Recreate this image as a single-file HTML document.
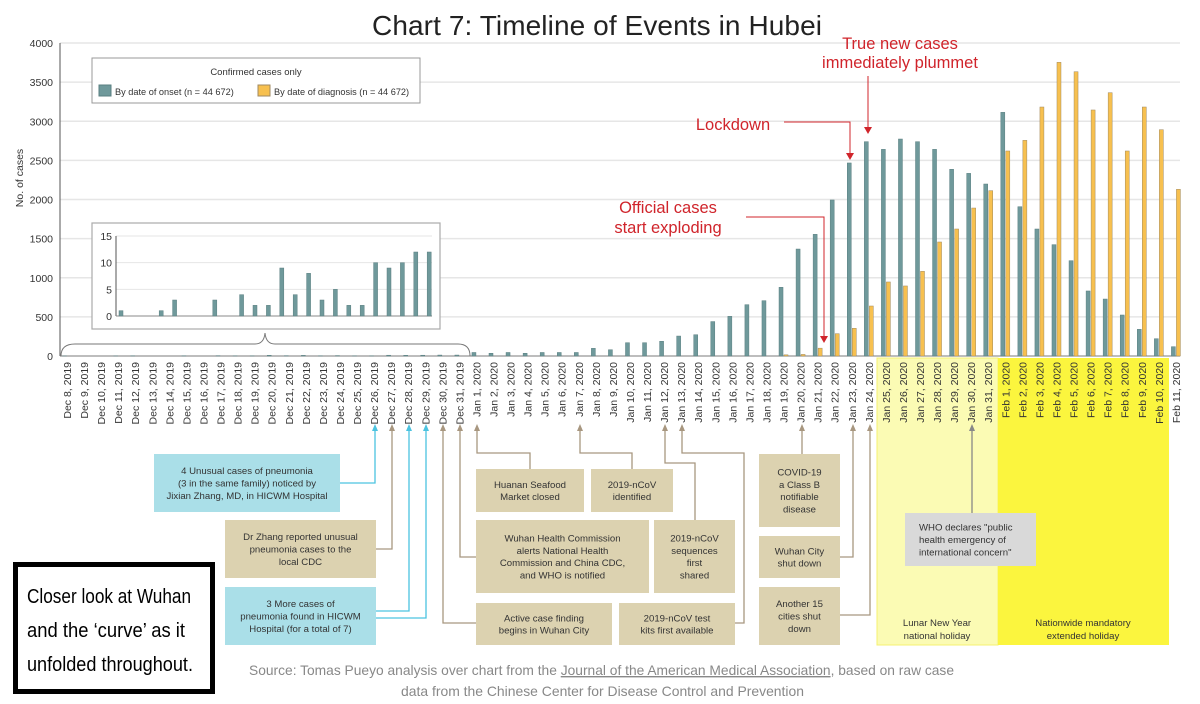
<!DOCTYPE html>
<html><head><meta charset="utf-8"><style>
html,body{margin:0;padding:0;background:#fff;}
svg{display:block;font-family:"Liberation Sans",sans-serif;}
.bx{font-family:"Liberation Sans",sans-serif;font-size:9.6px;fill:#333;}
</style></head><body>
<svg id="c" width="1200" height="704" viewBox="0 0 1200 704" xmlns="http://www.w3.org/2000/svg">
<text x="597" y="35" text-anchor="middle" font-size="28" fill="#222" textLength="450">Chart 7: Timeline of Events in Hubei</text>
<g id="grid"></g>
<g id="bg"></g>
<g id="bars"></g>
<g id="xl"></g>
<g id="ann"></g>
</svg>
<script>
const categories=["Dec 8, 2019","Dec 9, 2019","Dec 10, 2019","Dec 11, 2019","Dec 12, 2019","Dec 13, 2019","Dec 14, 2019","Dec 15, 2019","Dec 16, 2019","Dec 17, 2019","Dec 18, 2019","Dec 19, 2019","Dec 20, 2019","Dec 21, 2019","Dec 22, 2019","Dec 23, 2019","Dec 24, 2019","Dec 25, 2019","Dec 26, 2019","Dec 27, 2019","Dec 28, 2019","Dec 29, 2019","Dec 30, 2019","Dec 31, 2019",
"Jan 1, 2020","Jan 2, 2020","Jan 3, 2020","Jan 4, 2020","Jan 5, 2020","Jan 6, 2020","Jan 7, 2020","Jan 8, 2020","Jan 9, 2020","Jan 10, 2020","Jan 11, 2020","Jan 12, 2020","Jan 13, 2020","Jan 14, 2020","Jan 15, 2020","Jan 16, 2020","Jan 17, 2020","Jan 18, 2020","Jan 19, 2020","Jan 20, 2020","Jan 21, 2020","Jan 22, 2020","Jan 23, 2020","Jan 24, 2020","Jan 25, 2020","Jan 26, 2020","Jan 27, 2020","Jan 28, 2020","Jan 29, 2020","Jan 30, 2020","Jan 31, 2020",
"Feb 1, 2020","Feb 2, 2020","Feb 3, 2020","Feb 4, 2020","Feb 5, 2020","Feb 6, 2020","Feb 7, 2020","Feb 8, 2020","Feb 9, 2020","Feb 10, 2020","Feb 11, 2020"];
const onsetDec=[1,0,0,1,3,0,0,3,0,4,2,2,9,4,8,3,5,2,2,10,9,10,12,12];
const onsetJan=[45,35,45,35,45,45,45,98,80,170,170,188,255,272,440,507,656,707,878,1367,1555,1994,2467,2739,2641,2773,2739,2641,2386,2334,2198];
const onsetFeb=[3114,1908,1623,1423,1218,831,728,524,341,221,119];
const diagDec=[0,0,0,0,0,0,0,0,0,0,0,0,0,0,0,0,0,0,0,0,0,0,0,0];
const diagJan=[0,0,0,0,0,0,0,0,0,0,0,0,0,0,0,0,0,0,15,20,100,285,354,639,946,895,1082,1457,1623,1891,2113];
const diagFeb=[2620,2756,3182,3753,3633,3144,3365,2620,3182,2892,2130];
const yTicks=[0,500,1000,1500,2000,2500,3000,3500,4000];
const insetTicks=[0,5,10,15];

const onset=onsetDec.concat(onsetJan,onsetFeb);
const diag=diagDec.concat(diagJan,diagFeb);
const NS="http://www.w3.org/2000/svg";
const X0=67,DX=17.06,Y0=356,YS=(356-43)/4000;
const xs=i=>X0+DX*i, ys=v=>Y0-v*YS;
function el(tag,at,parent){const e=document.createElementNS(NS,tag);for(const k in at)e.setAttribute(k,at[k]);parent.appendChild(e);return e;}
const svg=document.getElementById('c');
const G=id=>document.getElementById(id);

yTicks.forEach(t=>{
  const l=el('line',{x1:60,x2:1180,y1:ys(t),y2:ys(t),stroke:'#e6e6e6','stroke-width':1.5},G('grid'));
  
  
  const tx=el('text',{x:53,y:ys(t)+4,'text-anchor':'end','font-size':10.5,fill:'#333'},G('grid'));
  tx.textContent=t;
  
  
});
let ya=el('line',{x1:60,x2:60,y1:43,y2:356,stroke:'#555','stroke-width':1},G('grid'));


let xa=el('line',{x1:60,x2:1180,y1:356,y2:356,stroke:'#888','stroke-width':1},G('grid'));


let yt=el('text',{x:0,y:0,transform:'translate(23,178) rotate(-90)','text-anchor':'middle','font-size':10.5,fill:'#333'},G('grid'));
yt.textContent='No. of cases';



let h1=el('rect',{x:877,y:358,width:121,height:287,fill:'#fbfbb4',stroke:'#f4f070','stroke-width':1},G('bg'));


let h2=el('rect',{x:998,y:358,width:171,height:287,fill:'#fbf53e'},G('bg'));



onset.forEach((v,i)=>{
  const r=el('rect',{x:xs(i)-4.5,y:ys(v),width:4,height:v*YS,fill:'#6f999b',stroke:'#5a7f80','stroke-width':0.5},G('bars'));
  
  
});
diag.forEach((v,i)=>{
  if(v<=0)return;
  const r=el('rect',{x:xs(i)+0.5,y:ys(v),width:4,height:v*YS,fill:'#f7c04f',stroke:'#a08a60','stroke-width':0.5},G('bars'));
  
  
});
categories.forEach((c,i)=>{
  const t=el('text',{x:0,y:0,transform:`translate(${xs(i)+4},362) rotate(-90)`,'text-anchor':'end','font-size':10.5,fill:'#333'},G('xl'));
  t.textContent=c;
  
  
});

const A=G('ann');
let lg=el('g',{},A);


el('rect',{x:92,y:58,width:328,height:45,fill:'#fff',stroke:'#999','stroke-width':1},lg);
let lt=el('text',{x:256,y:75,'text-anchor':'middle','font-size':9.5,fill:'#333'},lg);lt.textContent='Confirmed cases only';
let s1=el('rect',{x:99,y:85,width:12,height:11,fill:'#6f999b',stroke:'#5a7f80'},lg);


let l1=el('text',{x:115,y:95,'font-size':9.2,fill:'#333'},lg);l1.textContent='By date of onset (n = 44 672)';


let s2=el('rect',{x:258,y:85,width:12,height:11,fill:'#f7c04f',stroke:'#a08a60'},lg);


let l2=el('text',{x:274,y:95,'font-size':9.2,fill:'#333'},lg);l2.textContent='By date of diagnosis (n = 44 672)';



let ins=el('g',{},A);


el('rect',{x:92,y:223,width:348,height:106,fill:'#fff',stroke:'#aaa','stroke-width':1.2},ins);
const IY0=316,IYS=(316-236)/15;
insetTicks.forEach(t=>{
  el('line',{x1:116,x2:432,y1:IY0-t*IYS,y2:IY0-t*IYS,stroke:'#e6e6e6'},ins);
  const tt=el('text',{x:112,y:IY0-t*IYS+4,'text-anchor':'end','font-size':10.5,fill:'#333'},ins);
  tt.textContent=t;
  
  
});
el('line',{x1:116,x2:116,y1:236,y2:316,stroke:'#555'},ins);
el('line',{x1:116,x2:432,y1:316,y2:316,stroke:'#888'},ins);
onsetDec.forEach((v,i)=>{
  const r=el('rect',{x:121+i*13.4-2,y:IY0-v*IYS,width:4,height:v*IYS,fill:'#6f999b',stroke:'#5a7f80','stroke-width':0.5},ins);
  
  
});
let br=el('path',{d:'M61,356 Q61,344 75,344 L255,344 Q264,344 265,333 Q266,344 275,344 L458,344 Q470,344 470,356',fill:'none',stroke:'#777','stroke-width':1},A);



const RED='#d0242b';
function rtext(x,y,s,name){const t=el('text',{x:x,y:y,'text-anchor':'middle','font-size':16.5,fill:RED},A);t.textContent=s;}
rtext(900,49,'True new cases','plummet-annotation');
rtext(900,68,'immediately plummet','plummet-annotation');
rtext(733,130,'Lockdown','lockdown-annotation');
rtext(668,213,'Official cases','exploding-annotation');
rtext(668,233,'start exploding','exploding-annotation');
function rarrow(d,tx,ty,name){const p=el('path',{d:d,fill:'none',stroke:RED,'stroke-width':1},A);
  const t=el('path',{d:`M${tx-4},${ty-7} L${tx+4},${ty-7} L${tx},${ty} Z`,fill:RED},A);}
rarrow('M868,76 L868,128',868,134,'plummet-arrow');
rarrow('M784,122 L850,122 L850,154',850,160,'lockdown-arrow');
rarrow('M746,217 L824,217 L824,337',824,343,'exploding-arrow');

const TAN='#dcd2b0',BLUE='#aadfe8',TANL='#a89780',BLUEL='#4cc3e0';
function box(x,y,w,h,fill,lines,name,align){
  const g=el('g',{},A);
  
  
  el('rect',{x:x,y:y,width:w,height:h,fill:fill},g);
  const lh=12.3,cy=y+h/2,st=cy-(lines.length-1)*lh/2+3.5;
  lines.forEach((s,k)=>{const t=el('text',{x:align==='left'?x+14:x+w/2,y:st+k*lh,'text-anchor':align==='left'?'start':'middle',class:'bx'},g);t.textContent=s;});
}
function conn(pts,col,name){
  const ax=pts[0][0];
  const p=el('path',{d:'M'+pts.map(q=>q.join(',')).join(' L'),fill:'none',stroke:col,'stroke-width':1.3},A);
  
  
  const h=el('path',{d:`M${ax-3},431 L${ax+3},431 L${ax},424 Z`,fill:col},A);
  
  
}
const cx=i=>Math.round(xs(i)+1);
conn([[cx(18),430],[cx(18),483],[340,483]],BLUEL,'dec26-connector');
conn([[cx(19),430],[cx(19),549],[376,549]],TANL,'dec27-connector');
conn([[cx(20),430],[cx(20),611],[376,611]],BLUEL,'dec28-connector');
conn([[cx(21),430],[cx(21),618],[376,618]],BLUEL,'dec29-connector');
conn([[cx(22),430],[cx(22),623],[476,623]],TANL,'dec30-connector');
conn([[cx(23),430],[cx(23),557],[476,557]],TANL,'dec31-connector');
conn([[cx(24),430],[cx(24),453],[530,453],[530,469]],TANL,'jan1-connector');
conn([[cx(30),430],[cx(30),453],[632,453],[632,469]],TANL,'jan7-connector');
conn([[cx(35),430],[cx(35),463],[695,463],[695,520]],TANL,'jan12-connector');
conn([[cx(36),430],[cx(36),453],[744,453],[744,623],[735,623]],TANL,'jan13-connector');
conn([[cx(43),430],[cx(43),454]],TANL,'jan20-connector');
conn([[cx(46),430],[cx(46),557],[840,557]],TANL,'jan23-connector');
conn([[cx(47),430],[cx(47),615],[840,615]],TANL,'jan24-connector');
conn([[cx(53),430],[cx(53),513]],'#888','jan30-connector');

box(154,454,186,58,BLUE,['4 Unusual cases of pneumonia','(3 in the same family) noticed by','Jixian Zhang, MD, in HICWM Hospital'],'event-unusual-cases');
box(225,520,151,58,TAN,['Dr Zhang reported unusual','pneumonia cases to the','local CDC'],'event-reported-cdc');
box(225,587,151,58,BLUE,['3 More cases of','pneumonia found in HICWM','Hospital (for a total of 7)'],'event-more-cases');
box(476,469,108,43,TAN,['Huanan Seafood','Market closed'],'event-market-closed');
box(591,469,82,43,TAN,['2019-nCoV','identified'],'event-ncov-identified');
box(476,520,173,73,TAN,['Wuhan Health Commission','alerts National Health','Commission and China CDC,','and WHO is notified'],'event-who-notified');
box(654,520,81,73,TAN,['2019-nCoV','sequences','first','shared'],'event-sequences-shared');
box(476,603,136,42,TAN,['Active case finding','begins in Wuhan City'],'event-case-finding');
box(619,603,116,42,TAN,['2019-nCoV test','kits first available'],'event-test-kits');
box(759,454,81,73,TAN,['COVID-19','a Class B','notifiable','disease'],'event-class-b');
box(759,536,81,42,TAN,['Wuhan City','shut down'],'event-wuhan-shutdown');
box(759,587,81,58,TAN,['Another 15','cities shut','down'],'event-15-cities');
box(905,513,131,53,'#d9d9d9',['WHO declares "public','health emergency of','international concern"'],'event-who-emergency','left');

function t2(x,y,s,name){const t=el('text',{x:x,y:y,'text-anchor':'middle',class:'bx'},A);t.textContent=s;}
t2(937,626,'Lunar New Year','lunar-holiday-label');
t2(937,639,'national holiday','lunar-holiday-label');
t2(1083,626,'Nationwide mandatory','extended-holiday-label');
t2(1083,639,'extended holiday','extended-holiday-label');

let cb=el('g',{},A);


el('rect',{x:15.5,y:564.5,width:197,height:127,fill:'#fff',stroke:'#000','stroke-width':5},cb);
[['Closer look at Wuhan',164],['and the ‘curve’ as it',158],['unfolded throughout.',166]].forEach((s,k)=>{
  const t=el('text',{x:27,y:603+k*34,'font-size':20,fill:'#000',textLength:s[1],lengthAdjust:'spacingAndGlyphs'},cb);t.textContent=s[0];});

let src=el('text',{x:249,y:675,'font-size':14,fill:'#888',textLength:705,lengthAdjust:'spacingAndGlyphs'},A);


src.innerHTML='Source: Tomas Pueyo analysis over chart from the <tspan text-decoration="underline">Journal of the American Medical Association</tspan>, based on raw case';
let src2=el('text',{x:401,y:696,'font-size':14,fill:'#888',textLength:403,lengthAdjust:'spacingAndGlyphs'},A);
src2.textContent='data from the Chinese Center for Disease Control and Prevention';


</script>
</body></html>
